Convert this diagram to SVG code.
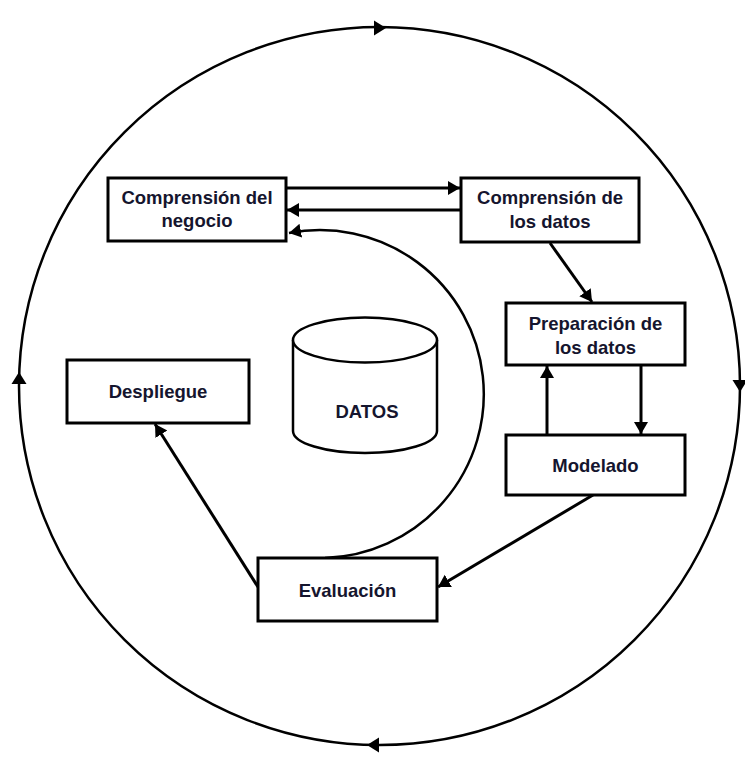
<svg xmlns="http://www.w3.org/2000/svg" width="745" height="757" viewBox="0 0 745 757">
<style>
.box{fill:#fff;stroke:#000;stroke-width:3}
.lbl{font-family:"Liberation Sans",Arial,sans-serif;font-weight:bold;font-size:18.5px;fill:#15152e;text-anchor:middle}
.con{fill:none;stroke:#000;stroke-width:3}
.ring{fill:none;stroke:#000;stroke-width:2.5}
.cyl{fill:#fff;stroke:#000;stroke-width:2.5}
.tip{fill:#000}
</style>
<defs>
<marker id="ah" markerUnits="userSpaceOnUse" markerWidth="13" markerHeight="15" refX="12" refY="7" orient="auto">
<path d="M0,0 L12,7 L0,14 z" fill="#000"/>
</marker>
</defs>
<rect width="745" height="757" fill="#fff"/>

<g id="cycle">
<ellipse class="ring" cx="379.5" cy="386" rx="360.5" ry="359"/>
<polygon class="tip" points="386,28 374,20.5 374,35.5"/>
<polygon class="tip" points="740,392 732.5,380 747.5,380"/>
<polygon class="tip" points="367,745 379,737.5 379,752.5"/>
<polygon class="tip" points="19,372 11.5,384 26.5,384"/>
</g>

<g id="connectors">
<path class="con" d="M286,188 L460,188" marker-end="url(#ah)"/>
<path class="con" d="M461,210 L287,210" marker-end="url(#ah)"/>
<path class="con" d="M550,243 L592,302" marker-end="url(#ah)"/>
<path class="con" d="M547,435 L547,366" marker-end="url(#ah)"/>
<path class="con" d="M641,365 L641,434" marker-end="url(#ah)"/>
<path class="con" d="M593,495 L438,587" marker-end="url(#ah)"/>
<path class="con" d="M258,587 L155,424" marker-end="url(#ah)"/>
<path class="con" style="stroke-width:2.5" d="M325,558 A164,164 0 1 0 289,233" marker-end="url(#ah)"/>
</g>

<g id="comprension-negocio">
<rect class="box" x="108" y="178" width="178" height="63"/>
<text class="lbl" x="197" y="204">Comprensión del</text>
<text class="lbl" x="197" y="227">negocio</text>
</g>

<g id="comprension-datos">
<rect class="box" x="461" y="178" width="178" height="64"/>
<text class="lbl" x="550" y="204">Comprensión de</text>
<text class="lbl" x="550" y="228">los datos</text>
</g>

<g id="preparacion-datos">
<rect class="box" x="506" y="303" width="179" height="62"/>
<text class="lbl" x="595.5" y="330">Preparación de</text>
<text class="lbl" x="595.5" y="354">los datos</text>
</g>

<g id="modelado">
<rect class="box" x="506" y="435" width="179" height="60"/>
<text class="lbl" x="595.5" y="472">Modelado</text>
</g>

<g id="evaluacion">
<rect class="box" x="258" y="558" width="179" height="63"/>
<text class="lbl" x="347.5" y="597">Evaluación</text>
</g>

<g id="despliegue">
<rect class="box" x="67" y="360" width="182" height="63"/>
<text class="lbl" x="158" y="398">Despliegue</text>
</g>

<g id="datos">
<path class="cyl" d="M293,340 L293,431 A72,22 0 0 0 437,431 L437,340"/>
<ellipse class="cyl" cx="365" cy="340" rx="72" ry="22.5"/>
<text class="lbl" x="367" y="418">DATOS</text>
</g>
</svg>
